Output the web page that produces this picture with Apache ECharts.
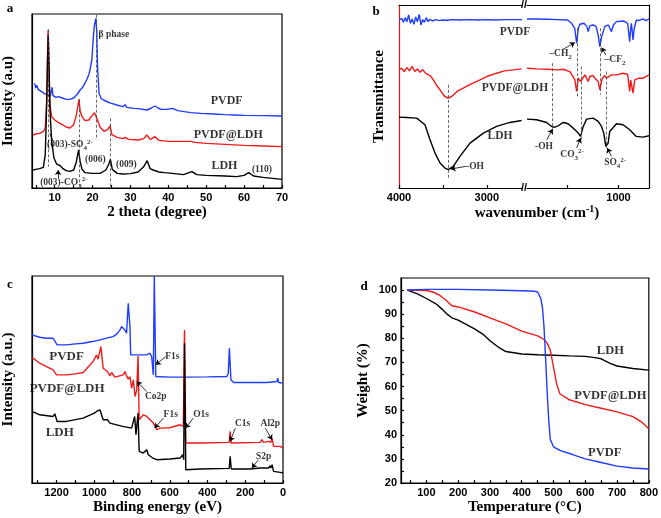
<!DOCTYPE html>
<html><head><meta charset="utf-8">
<script src="https://cdn.jsdelivr.net/npm/echarts@6/dist/echarts.min.js"></script>
<style>html,body{margin:0;padding:0;background:#fff}#c{width:661px;height:518px}</style>
</head><body><div id="c"></div><script>
// ---------- Panel a: XRD (2theta deg, intensity a.u.) ----------
const aLabelValues = [10,20,30,40,50,60,70];
const aTickValues = [5,10,15,20,25,30,35,40,45,50,55,60,65,70];
const aPVDF = [[4.7,314],[5.0,300],[5.3,308],[5.6,296],[6.0,302],[6.4,290],[6.8,294],[7.2,284],[7.6,288],[8.0,280],[8.4,284],[8.8,276],[9.1,280],[9.3,302],[9.5,278],[9.8,276],[10.3,272],[11,274],[11.5,268],[12,270],[12.5,264],[13,266],[13.5,262],[14,266],[14.5,264],[15,270],[15.5,276],[16,282],[16.7,294],[17.5,304],[18.4,324],[19.0,340],[19.3,354],[19.8,384],[20.2,454],[20.5,490],[20.85,509],[21.1,470],[21.3,364],[21.7,284],[22.3,268],[22.9,264],[24,258],[25,254],[26.4,249],[28,244],[28.6,250],[29,242],[30.9,239],[32,238],[34.4,234],[35.5,240],[36.5,246],[37.3,240],[38,236],[39.5,236],[41.1,239],[42.5,232],[44.2,229],[46,226],[48.6,224],[52,222],[55,220],[57.5,219],[60,218],[65,217],[70,216]];
const aPVDFLDH = [[4.3,159],[5,162],[5.5,166],[6,164],[6.5,168],[7,170],[7.5,180],[7.9,260],[8.1,400],[8.25,474],[8.45,380],[8.7,250],[9.2,214],[10,204],[11,196],[12,190],[13,183],[14,180],[15,190],[15.7,218],[16.1,246],[16.4,266],[16.7,232],[17.2,214],[18,202],[19,204],[19.9,218],[20.5,226],[20.85,229],[21.3,204],[22,182],[23,170],[24,176],[24.6,186],[25.1,160],[26.5,152],[28,148],[28.6,152],[29.5,146],[32,144],[33.5,148],[34.3,159],[35.2,146],[36.5,154],[37.5,143],[40,140],[44,140],[46,140],[47,137],[50,134],[55,131],[60,128],[65,126],[70,124]];
const aLDH = [[4.3,54],[5,56],[6,58],[7,62],[7.5,100],[7.8,220],[8.1,380],[8.3,460],[8.5,360],[8.8,220],[9.2,140],[9.8,90],[10.5,72],[11.3,68],[11.6,72],[12.2,58],[13,52],[14,50],[15,54],[15.7,78],[16.3,114],[16.7,80],[17.2,56],[18,46],[20,44],[22,44],[23.5,54],[24.3,72],[24.7,86],[25.2,56],[26.5,44],[28,42],[30,43],[32,48],[33.5,64],[34.4,82],[35.2,58],[36,54],[36.5,59],[37.5,48],[39,46],[41,44],[44,40],[46.2,49],[47.5,40],[50,38],[55,36],[58,34],[60,38],[61.2,46],[62.5,36],[65,32],[70,26]];
const aNames = [[55.4,261,'PVDF'],[55.8,159,'PVDF@LDH'],[54.8,67,'LDH']];
const aNotes = [[64.7,54,'(110)'],[28.9,69,'(009)'],[20.7,86,'(006)'],[25.6,459,'β phase'],[14.0,129,'(003)-SO{sb|4}{sp|2-}'],[12.4,16,'(003)-CO{sb|3}{sp|2-}']];
const aDashes = [[8.3,476,64],[16.4,266,4],[20.85,520,144],[24.6,209,4]];
const aLeaders = [[[9.6,139],[8.7,164],0],[[10.9,29],[10.9,54],1]];

// ---------- Panel b: FTIR (wavenumber, transmittance) ----------
const bLeftLabelValues = [3000,4000];
const bLeftTickValues = [3000,3500,4000];
const bRightLabelValues = [1000];
const bRightTickValues = [1000,1500];
const bPVDF_L = [[4000,505],[3970,510],[3950,498],[3930,512],[3910,500],[3890,520],[3870,495],[3850,508],[3830,492],[3810,514],[3790,500],[3770,522],[3750,490],[3730,506],[3710,498],[3690,512],[3670,500],[3650,507],[3620,502],[3580,506],[3540,503],[3500,505],[3450,504],[3400,506],[3300,505],[3200,506],[3100,505],[3000,506],[2900,505],[2800,506],[2700,506],[2600,506]];
const bPVDF_R = [[1900,508],[1800,508],[1700,507],[1600,506],[1500,505],[1461,495],[1430,480],[1412,435],[1395,480],[1380,492],[1340,495],[1310,485],[1298,470],[1280,488],[1249,490],[1220,485],[1200,460],[1184,425],[1165,455],[1135,485],[1100,490],[1069,470],[1050,490],[1020,500],[950,502],[910,495],[890,440],[880,480],[873,495],[857,445],[845,480],[824,505],[800,503],[760,508],[730,503],[700,508]];
const bPVDFLDH_L = [[4000,355],[3970,360],[3940,350],[3910,362],[3880,352],[3850,366],[3820,350],[3790,358],[3760,348],[3730,356],[3700,345],[3685,350],[3647,338],[3609,325],[3570,308],[3533,295],[3500,282],[3477,275],[3439,270],[3400,275],[3382,280],[3330,292],[3268,300],[3200,310],[3078,325],[3000,335],[2889,345],[2800,352],[2699,355],[2604,358]];
const bPVDFLDH_R = [[1900,360],[1800,358],[1700,357],[1600,355],[1544,357],[1478,350],[1429,325],[1412,290],[1396,330],[1373,320],[1363,318],[1331,340],[1298,320],[1282,335],[1250,338],[1233,330],[1200,320],[1184,295],[1160,330],[1135,338],[1118,330],[1069,340],[1020,340],[955,345],[910,342],[890,290],[880,325],[873,330],[857,285],[840,325],[800,330],[759,330],[730,335],[700,340]];
const bLDH_L = [[4000,213],[3913,212],[3799,210],[3704,190],[3647,145],[3590,105],[3533,75],[3477,60],[3439,55],[3382,65],[3306,95],[3192,135],[3040,165],[2889,185],[2737,197],[2604,203]];
const bLDH_R = [[1900,207],[1805,205],[1707,197],[1658,185],[1635,182],[1593,187],[1544,197],[1495,193],[1446,180],[1396,165],[1373,155],[1347,185],[1314,207],[1249,210],[1200,200],[1167,185],[1145,165],[1125,125],[1102,135],[1086,170],[1020,193],[955,190],[890,175],[825,155],[759,153],[700,157]];
const bNamesL = [[2680,470,'PVDF'],[2680,300,'PVDF@LDH'],[2851,155,'LDH']];
const bNotesL = [[3135,65,'-OH']];
const bNotesR = [[1570,403,'–CH{sb|2}'],[1034,385,'–CF{sb|2}'],[1733,125,'-OH'],[1456,100,'CO{sb|3}{sp|2-}'],[1033,75,'SO{sb|4}{sp|2-}']];
const bDashesL = [[3439,310,30]];
const bDashesR = [[1648,375,165],[1407,480,275],[1370,365,145],[1184,480,280],[1125,350,120]];
const bArrowsL = [[[3238,65],[3412,57],1]];
const bArrowsR = [[[1544,417],[1429,437],1],[[1125,400],[1167,422],1],[[1706,145],[1648,177],1],[[1412,120],[1373,150],1],[[1069,95],[1111,120],1]];

// ---------- Panel c: XPS (binding energy eV) ----------
const cLabelValues = [0,200,400,600,800,1000,1200];
const cTickValues = [0,100,200,300,400,500,600,700,800,900,1000,1100,1200,1300];
const cPVDF = [[1330,445],[1290,438],[1253,435],[1218,435],[1209,440],[1197,415],[1147,415],[1100,418],[1059,420],[1010,425],[970,430],[930,436],[900,440],[880,448],[864,460],[855,470],[846,475],[838,460],[829,450],[820,540],[811,470],[807,385],[793,385],[758,385],[722,385],[705,390],[696,380],[687,325],[682,622],[674,320],[669,318],[600,318],[528,318],[400,319],[297,320],[290,330],[284,405],[276,310],[262,302],[150,302],[85,302],[32,305],[28,315],[23,302],[0,300]];
const cPVDFLDH = [[1330,378],[1289,360],[1253,350],[1218,340],[1209,345],[1200,325],[1183,325],[1147,325],[1100,328],[1059,332],[1006,365],[988,385],[980,372],[965,410],[953,345],[930,335],[917,322],[908,332],[891,318],[846,325],[838,335],[829,322],[820,312],[811,320],[802,285],[793,310],[784,260],[775,280],[768,382],[762,190],[740,205],[722,200],[714,200],[687,180],[669,160],[652,165],[600,166],[545,175],[536,180],[528,170],[522,460],[515,120],[439,120],[285,122],[280,155],[274,120],[121,122],[112,130],[103,122],[76,125],[70,130],[64,122],[58,135],[50,110],[14,110],[0,105]];
const cLDH = [[1330,215],[1289,205],[1218,200],[1209,208],[1197,185],[1147,185],[1059,195],[1000,210],[988,215],[970,220],[965,220],[953,190],[930,190],[917,180],[908,182],[850,170],[802,165],[793,165],[786,200],[779,145],[768,210],[762,95],[740,90],[722,100],[714,85],[690,75],[669,70],[600,72],[545,75],[531,85],[526,70],[522,420],[515,40],[439,42],[285,44],[280,80],[274,42],[174,42],[121,45],[112,48],[103,45],[76,45],[70,52],[64,45],[58,55],[50,35],[14,32],[0,30]];
const cNames = [[1147,380,'PVDF'],[1144,285,'PVDF@LDH'],[1183,150,'LDH']];
const cNotes = [[674,260,'Co2p'],[586,380,'F1s'],[595,205,'F1s'],[434,205,'O1s'],[214,180,'C1s'],[67,180,'Al2p'],[103,80,'S2p']];
const cArrows = [[[722,275],[775,305],1],[[622,380],[674,355],1],[[634,195],[680,165],1],[[475,195],[517,165],1],[[253,165],[280,125],1],[[94,165],[58,130],1],[[130,70],[165,45],1]];

// ---------- Panel d: TGA (temperature C, weight %) ----------
const dXLabelValues = [100,200,300,400,500,600,700,800];
const dXTickValues = [50,100,150,200,250,300,350,400,450,500,550,600,650,700,750,800];
const dYLabelValues = [20,30,40,50,60,70,80,90,100];
const dYTickValues = [20,25,30,35,40,45,50,55,60,65,70,75,80,85,90,95,100];
const dLDH = [[40,100],[70,98.5],[100,96.5],[130,94.3],[150,92],[165,90],[180,88.5],[200,87.5],[250,84],[280,81.5],[300,79],[330,76],[350,74.5],[400,73.5],[450,73.2],[500,73],[550,72.7],[600,72.5],[630,72],[650,71.5],[680,69.5],[700,68.5],[750,67.5],[800,66.8]];
const dPVDFLDH = [[40,100],[100,99.8],[120,99.2],[140,98],[160,96],[180,93.5],[200,93],[250,91],[300,88.5],[350,86],[400,83],[450,81],[470,79.5],[480,78],[490,75],[500,68],[510,61],[520,57],[550,54.5],[600,52.5],[650,51],[700,49.5],[750,47.5],[780,45],[800,42.5]];
const dPVDF = [[40,100],[100,100.3],[200,100.3],[300,100],[400,99.7],[440,99.5],[450,99.2],[455,98.5],[460,96.5],[465,93],[470,85],[475,72],[480,58],[485,46],[490,38],[500,35],[520,33.5],[560,31.8],[600,30],[650,28.5],[700,27],[750,26.2],[800,25.8]];
const dNames = [[679,74.8,'LDH'],[679,56,'PVDF@LDH'],[661,32.5,'PVDF']];

// ================= rendering =================
const SERIF = '"Liberation Serif","Times New Roman",serif';
const SANS = '"Liberation Sans",Arial,sans-serif';
const BLUE = '#1f3cff', RED = '#f01a1a', BLACK = '#000';
const chart = echarts.init(document.getElementById('c'), null, {renderer: 'canvas'});

const tickLabelStyle = {color: '#000', fontFamily: SANS, fontWeight: 'bold', fontSize: 11, margin: 4, formatter: v => String(v)};
const nameStyle = {color: '#000', fontFamily: SERIF, fontWeight: 'bold', fontSize: 15};
const lineSt = {color: '#000', width: 1.2};

function xAx(grid, min, max, labels, ticks, opts) {
  return Object.assign({
    gridIndex: grid, type: 'value', min: min, max: max,
    axisLine: {show: true, lineStyle: lineSt},
    axisTick: {show: true, inside: true, length: 3, customValues: ticks, lineStyle: lineSt},
    axisLabel: Object.assign({customValues: labels}, tickLabelStyle),
    splitLine: {show: false}, nameTextStyle: nameStyle, nameLocation: 'middle'
  }, opts || {});
}
function yAx(grid, min, max, opts) {
  return Object.assign({
    gridIndex: grid, type: 'value', min: min, max: max,
    axisLine: {show: true, onZero: false, lineStyle: lineSt},
    axisTick: {show: false}, axisLabel: {show: false}, splitLine: {show: false},
    nameTextStyle: nameStyle, nameLocation: 'middle', nameRotate: 90
  }, opts || {});
}
function curve(data, color, xi, yi) {
  return {type: 'line', data: data, xAxisIndex: xi, yAxisIndex: yi, showSymbol: false, symbol: 'none',
    lineStyle: {color: color, width: 1.4}, itemStyle: {color: color}, silent: true, z: 3};
}
const richSub = {
  sb: {fontSize: 7, fontFamily: SERIF, fontWeight: 'bold', lineHeight: 8, verticalAlign: 'bottom', color: '#000'},
  sp: {fontSize: 7, fontFamily: SERIF, fontWeight: 'bold', lineHeight: 8, verticalAlign: 'top', color: '#000'}
};
function notes(items, xi, yi, size, dashes, arrows) {
  const ml = [];
  (dashes || []).forEach(d => {
    ml.push([{coord: [d[0], d[1]], symbol: 'none', lineStyle: {type: [3, 2], color: '#444', width: 0.8}},
             {coord: [d[0], d[2]], symbol: 'none'}]);
  });
  (arrows || []).forEach(a => {
    ml.push([{coord: a[0], symbol: 'none', lineStyle: {type: 'solid', color: '#000', width: 0.8}},
             {coord: a[1], symbol: a[2] ? 'arrow' : 'none', symbolSize: 5}]);
  });
  return {
    type: 'scatter', xAxisIndex: xi, yAxisIndex: yi, silent: true, z: 5,
    symbolSize: 0.1, itemStyle: {color: 'rgba(0,0,0,0)'},
    data: items.map(t => ({name: t[2], value: [t[0], t[1]]})),
    label: {show: true, position: 'inside', formatter: p => p.name, color: '#000',
      fontFamily: SERIF, fontWeight: 'bold', fontSize: size, lineHeight: size + 4, rich: richSub},
    markLine: ml.length ? {silent: true, symbol: 'none', animation: false, label: {show: false},
      lineStyle: {color: '#000', width: 0.8}, emphasis: {disabled: true}, data: ml} : undefined
  };
}

const grids = [
  {left: 32, top: 14, width: 250, height: 174, show: true, borderColor: '#000', borderWidth: 1.2},
  {left: 399, top: 5, width: 123, height: 183},
  {left: 527, top: 5, width: 122, height: 183},
  {left: 32, top: 276, width: 251, height: 207, show: true, borderColor: '#000', borderWidth: 1.2},
  {left: 401, top: 278, width: 249, height: 205, show: true, borderColor: '#000', borderWidth: 1.2}
];

const xAxes = [
  xAx(0, 4, 70, aLabelValues, aTickValues, {name: '2 theta (degree)', nameGap: 17}),
  xAx(1, 2600, 4000, bLeftLabelValues, bLeftTickValues, {inverse: true}),
  xAx(1, 2600, 4000, [], [], {inverse: true, position: 'top', axisTick: {show: false}, axisLabel: {show: false}}),
  xAx(2, 700, 1900, bRightLabelValues, bRightTickValues, {inverse: true}),
  xAx(2, 700, 1900, [], [], {inverse: true, position: 'top', axisTick: {show: false}, axisLabel: {show: false}}),
  xAx(3, 0, 1330, cLabelValues, cTickValues, {inverse: true, name: 'Binding energy (eV)', nameGap: 17}),
  xAx(4, 20, 800, dXLabelValues, dXTickValues, {name: 'Temperature (°C)', nameGap: 17})
];
const yAxes = [
  yAx(0, 0, 522, {name: 'Intensity (a.u)', nameGap: 16}),
  yAx(1, 0, 550, {name: 'Transmittance', nameGap: 12, axisLine: {show: true, lineStyle: {color: '#e01010', width: 1.2}}}),
  yAx(2, 0, 550, {position: 'right'}),
  yAx(3, 0, 622, {name: 'Intensity (a.u.)', nameGap: 16}),
  yAx(4, 20, 105, {name: 'Weight (%)', nameGap: 30,
    axisTick: {show: true, inside: true, length: 3, customValues: dYTickValues, lineStyle: lineSt},
    axisLabel: Object.assign({show: true, customValues: dYLabelValues}, tickLabelStyle)})
];

const series = [
  curve(aPVDF, BLUE, 0, 0), curve(aPVDFLDH, RED, 0, 0), curve(aLDH, BLACK, 0, 0),
  notes(aNames, 0, 0, 12), notes(aNotes, 0, 0, 9.5, aDashes, aLeaders),
  curve(bPVDF_L, BLUE, 1, 1), curve(bPVDFLDH_L, RED, 1, 1), curve(bLDH_L, BLACK, 1, 1),
  curve(bPVDF_R, BLUE, 3, 2), curve(bPVDFLDH_R, RED, 3, 2), curve(bLDH_R, BLACK, 3, 2),
  notes(bNamesL, 1, 1, 11.5), notes(bNotesL, 1, 1, 9.5, bDashesL, bArrowsL),
  notes(bNotesR, 3, 2, 9.5, bDashesR, bArrowsR),
  curve(cPVDF, BLUE, 5, 3), curve(cPVDFLDH, RED, 5, 3), curve(cLDH, BLACK, 5, 3),
  notes(cNames, 5, 3, 13), notes(cNotes, 5, 3, 9.5, [], cArrows),
  curve(dLDH, BLACK, 6, 4), curve(dPVDFLDH, RED, 6, 4), curve(dPVDF, BLUE, 6, 4),
  notes(dNames, 6, 4, 12.5)
];

function txt(x, y, text, font, extra) {
  return {type: 'text', x: x, y: y, silent: true, z: 10,
    style: Object.assign({text: text, fill: '#000', font: font, align: 'center', verticalAlign: 'middle'}, extra || {})};
}
const graphic = [
  txt(10, 9, 'a', 'bold 13px ' + SERIF),
  txt(376, 12, 'b', 'bold 13px ' + SERIF),
  txt(10, 285, 'c', 'bold 13px ' + SERIF),
  txt(364, 287, 'd', 'bold 13px ' + SERIF),
  txt(524, 188, '//', 'bold 11px ' + SANS),
  txt(524, 5, '//', 'bold 11px ' + SANS),
  txt(537, 213, 'wavenumber (cm{sp|-1})', 'bold 15px ' + SERIF,
    {rich: {sp: {fontSize: 10, fontFamily: SERIF, fontWeight: 'bold', verticalAlign: 'top', lineHeight: 10, fill: '#000'}}, lineHeight: 18})
];

chart.setOption({
  animation: false, backgroundColor: '#fff',
  grid: grids, xAxis: xAxes, yAxis: yAxes, series: series, graphic: graphic
});
</script></body></html>
